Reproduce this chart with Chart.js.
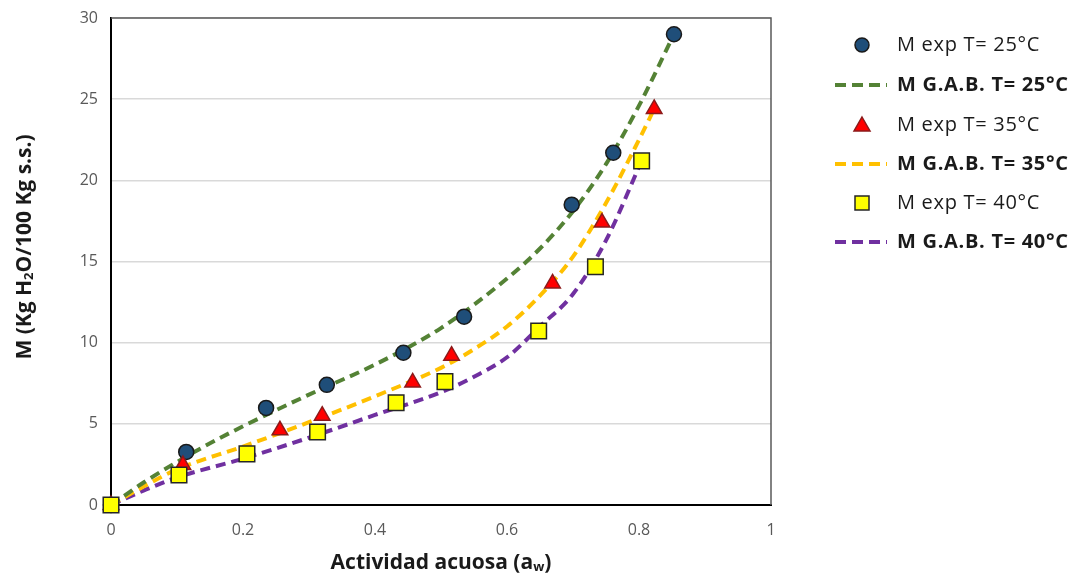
<!DOCTYPE html>
<html>
<head>
<meta charset="utf-8">
<script src="https://cdn.jsdelivr.net/npm/chart.js@4.4.0/dist/chart.umd.min.js"></script>
<style>
  body { margin: 0; background: #fff; }
  #wrap { position: relative; width: 1082px; height: 579px; }
  #legend { position: absolute; left: 830px; top: 0; font-family: "Open Sans", sans-serif; font-size: 20px; letter-spacing: 0.7px; color: #1a1a1a; }
  .row { position: absolute; left: 0; width: 252px; height: 24px; }
  .row canvas { position: absolute; left: 0; top: 0; }
  .row span { position: absolute; left: 67px; top: -1px; white-space: nowrap; line-height: 24px; }
</style>
</head>
<body>
<div id="wrap">
  <canvas id="isoChart" width="1082" height="579"></canvas>
  <div id="legend"></div>
</div>
<script>
// experimental points
const aw25 = [0, 0.114, 0.235, 0.327, 0.443, 0.535, 0.698, 0.761, 0.853];
const m25  = [0, 3.27, 5.98, 7.4, 9.38, 11.6, 18.5, 21.7, 29.0];
const aw35 = [0, 0.109, 0.256, 0.320, 0.457, 0.516, 0.669, 0.744, 0.823];
const m35  = [0, 2.46, 4.6, 5.5, 7.55, 9.2, 13.65, 17.4, 24.4];
const aw40 = [0, 0.103, 0.206, 0.313, 0.432, 0.506, 0.648, 0.734, 0.804];
const m40  = [0, 1.85, 3.15, 4.5, 6.3, 7.6, 10.72, 14.68, 21.2];

// G.A.B. model curves
const gabAw25 = [0, 0.05, 0.1, 0.15, 0.2, 0.3, 0.4, 0.5, 0.6, 0.65, 0.7, 0.75, 0.8, 0.853];
const gab25   = [0, 1.4, 2.65, 3.8, 4.85, 6.8, 8.65, 10.9, 13.95, 15.8, 18.1, 21.0, 24.6, 29.0];
const gabAw35 = [0, 0.05, 0.1, 0.2, 0.3, 0.4, 0.5, 0.55, 0.6, 0.65, 0.7, 0.75, 0.8, 0.823];
const gab35   = [0, 1.15, 2.2, 3.6, 5.1, 6.7, 8.45, 9.6, 11.0, 12.9, 15.3, 18.6, 22.5, 24.4];
const gabAw40 = [0, 0.05, 0.1, 0.2, 0.3, 0.4, 0.5, 0.55, 0.6, 0.65, 0.7, 0.75, 0.804];
const gab40   = [0, 0.9, 1.7, 2.85, 4.15, 5.55, 6.95, 7.9, 9.1, 11.0, 13.0, 16.3, 21.2];

const labels = ['M exp T= 25°C', 'M G.A.B. T= 25°C', 'M exp T= 35°C', 'M G.A.B. T= 35°C', 'M exp T= 40°C', 'M G.A.B. T= 40°C'];

const pts = (xs, ys) => xs.map((x, i) => ({ x: x, y: ys[i] }));

// lower order is drawn on top: squares over triangles over circles
function expSet(label, xs, ys, style, radius, fill, border, order) {
    return {
        label: label, data: pts(xs, ys), showLine: false, order: order, clip: false,
        pointStyle: style, pointRadius: radius, pointHoverRadius: radius,
        pointBackgroundColor: fill, pointBorderColor: border, pointBorderWidth: 1.5
    };
}
function gabSet(label, xs, ys, color) {
    return {
        label: label, data: pts(xs, ys), showLine: true, order: 5,
        borderColor: color, borderWidth: 4, borderDash: [10, 6],
        cubicInterpolationMode: 'monotone', pointRadius: 0, fill: false
    };
}

const datasets = [
    expSet(labels[0], aw25, m25, 'circle', 7.5, '#1f4e79', '#1a1a1a', 3),
    gabSet(labels[1], gabAw25, gab25, '#548235'),
    expSet(labels[2], aw35, m35, 'triangle', 9, '#ff0000', '#8b1a1a', 2),
    gabSet(labels[3], gabAw35, gab35, '#ffc000'),
    expSet(labels[4], aw40, m40, 'rect', 11, '#ffff00', '#262626', 1),
    gabSet(labels[5], gabAw40, gab40, '#7030a0')
];

// axis titles with subscripts, drawn on canvas
const axisTitles = {
    id: 'axisTitles',
    afterDraw(chart) {
        const ctx = chart.ctx, a = chart.chartArea;
        const big = 'bold 21px "Open Sans", sans-serif', small = 'bold 13px "Open Sans", sans-serif';
        function run(parts, x, y) {
            let w = 0;
            parts.forEach(p => { ctx.font = p.sub ? small : big; w += ctx.measureText(p.t).width; });
            let cx = x - w / 2;
            parts.forEach(p => {
                ctx.font = p.sub ? small : big;
                ctx.fillText(p.t, cx, p.sub ? y + 4 : y);
                cx += ctx.measureText(p.t).width;
            });
        }
        ctx.save();
        ctx.fillStyle = '#1a1a1a';
        ctx.textBaseline = 'middle';
        ctx.textAlign = 'left';
        run([{ t: 'Actividad acuosa (a' }, { t: 'w', sub: true }, { t: ')' }], (a.left + a.right) / 2, 563);
        ctx.translate(25, 247);
        ctx.rotate(-Math.PI / 2);
        run([{ t: 'M (Kg H' }, { t: '2', sub: true }, { t: 'O/100 Kg s.s.)' }], 0, 0);
        ctx.restore();
        // plot frame
        ctx.save();
        ctx.strokeStyle = '#595959';
        ctx.lineWidth = 1.5;
        ctx.beginPath();
        ctx.moveTo(a.left, a.top); ctx.lineTo(a.right, a.top); ctx.lineTo(a.right, a.bottom);
        ctx.stroke();
        ctx.restore();
    }
};

new Chart(document.getElementById('isoChart').getContext('2d'), {
    type: 'scatter',
    data: { datasets: datasets },
    options: {
        responsive: false,
        animation: false,
        layout: { padding: { top: 18, right: 311 } },
        plugins: { legend: { display: false }, tooltip: { enabled: false } },
        scales: {
            x: {
                type: 'linear', min: 0, max: 1,
                ticks: {
                    stepSize: 0.2, color: '#595959', padding: 16,
                    font: { family: 'Open Sans', size: 16 },
                    callback: v => String(+v.toFixed(1))
                },
                grid: { display: false, drawTicks: false },
                border: { color: '#000', width: 2 },
                afterFit: s => { s.height = 74; s.paddingLeft = 0; s.paddingRight = 0; }
            },
            y: {
                min: 0, max: 30,
                ticks: { stepSize: 5, color: '#595959', padding: 13, font: { family: 'Open Sans', size: 16 } },
                grid: { color: '#d9d9d9', lineWidth: 1.5, drawTicks: false },
                border: { color: '#000', width: 2 },
                afterFit: s => { s.width = 111; s.paddingTop = 0; s.paddingBottom = 0; }
            }
        }
    },
    plugins: [axisTitles]
});

// legend built from the datasets
const legend = document.getElementById('legend');
const rowY = [33, 73, 113, 152, 191, 230];
datasets.forEach((ds, i) => {
    const row = document.createElement('div');
    row.className = 'row';
    row.style.top = rowY[i] + 'px';
    const c = document.createElement('canvas');
    c.width = 60; c.height = 24;
    const g = c.getContext('2d');
    if (ds.showLine) {
        g.strokeStyle = ds.borderColor; g.lineWidth = 4; g.setLineDash([11, 6]);
        g.beginPath(); g.moveTo(5, 12); g.lineTo(57, 12); g.stroke();
    } else {
        g.fillStyle = ds.pointBackgroundColor; g.strokeStyle = ds.pointBorderColor; g.lineWidth = 1.5;
        g.beginPath();
        if (ds.pointStyle === 'circle') g.arc(32, 12, 7, 0, Math.PI * 2);
        else if (ds.pointStyle === 'triangle') { g.moveTo(32, 4); g.lineTo(40, 18); g.lineTo(24, 18); g.closePath(); }
        else g.rect(25, 5, 14, 14);
        g.fill(); g.stroke();
    }
    const s = document.createElement('span');
    s.textContent = ds.label;
    if (ds.showLine) s.style.fontWeight = 'bold';
    row.appendChild(c); row.appendChild(s);
    legend.appendChild(row);
});
</script>
</body>
</html>
